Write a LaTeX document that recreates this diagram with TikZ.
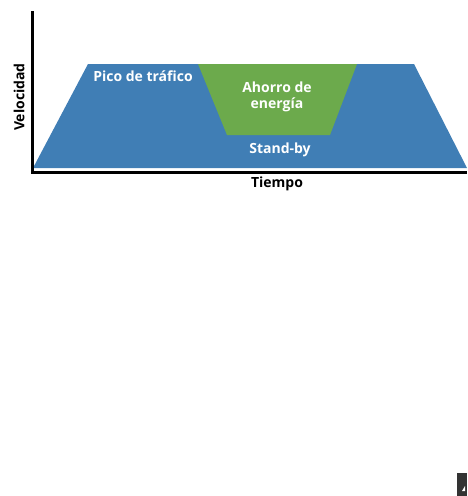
\documentclass[tikz,border=0pt]{standalone}
\usepackage{fontspec}
\setmainfont{Open Sans}
\usepackage{tikz}
\definecolor{speedblue}{RGB}{64,126,181}
\definecolor{savegreen}{RGB}{108,170,76}
\tikzstyle{label} = [text=white, font=\bfseries\fontsize{14}{15.5}\selectfont, align=center, inner sep=0pt]
\tikzstyle{axislabel} = [text=black, font=\bfseries\fontsize{14}{15.5}\selectfont, inner sep=0pt]
\tikzstyle{axis} = [line width=3pt, black]

\begin{document}
\begin{tikzpicture}[x=1pt, y=-1pt]
\useasboundingbox (0,0) rectangle (467,496);

% speed profile
\fill [speedblue] (33,168) -- (88,64) -- (414,64) -- (467,168) -- cycle;
\fill [savegreen] (198,64) -- (357,64) -- (330,135) -- (227,135) -- cycle;

% axes
\coordinate (origin) at (32,172);
\coordinate (ytop) at (32,11);
\coordinate (xend) at (467,172);
\draw [axis] (ytop) -- (origin) -- (xend);

\node (peak) [label] at (143,76) {Pico de tráfico};
\node (saving) [label] at (277,97) {Ahorro de\\energía};
\node (standby) [label] at (280,150) {Stand-by};
\node (time) [axislabel] at (277,184) {Tiempo};
\node (speed) [axislabel, rotate=90] at (19,97) {Velocidad};

% corner mark
\fill [black!80] (457,473) rectangle (467,496);
\fill [white] (462,491) -- (465,486) -- (465,491) -- cycle;

\end{tikzpicture}
\end{document}
